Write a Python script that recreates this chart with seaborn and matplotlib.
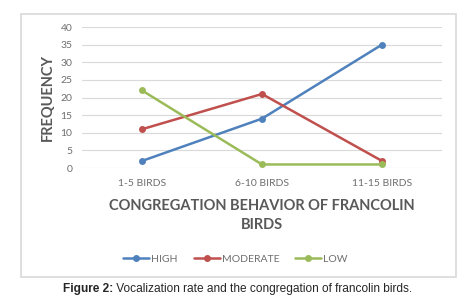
import pandas as pd
import matplotlib.pyplot as plt
import seaborn as sns
from matplotlib.patches import Rectangle

# --- Data ---
categories = ['1-5 BIRDS', '6-10 BIRDS', '11-15 BIRDS']
high = [2, 14, 35]
moderate = [11, 21, 2]
low = [22, 1, 1]
series_names = ['HIGH', 'MODERATE', 'LOW']
colors = ['#4F81BD', '#C0504D', '#9BBB59']
y_ticks = [0, 5, 10, 15, 20, 25, 30, 35, 40]

df = pd.DataFrame({
    'group': categories * 3,
    'freq': high + moderate + low,
    'level': [s for s in series_names for _ in categories],
})

sns.set_style('white')
plt.rcParams['font.family'] = ['Lato', 'DejaVu Sans']

fig = plt.figure(figsize=(4.71, 3.06), dpi=100)
fig.patches.append(Rectangle((21 / 471, 1 - 277 / 306), 435 / 471, 263 / 306,
                             transform=fig.transFigure, fill=False,
                             edgecolor='#D9D9D9', linewidth=1.2))
ax = fig.add_axes([82 / 471, 1 - 168 / 306, 360 / 471, 141 / 306])

sns.lineplot(data=df, x='group', y='freq', hue='level', palette=colors,
             marker='o', markersize=5, markeredgewidth=0, linewidth=1.8,
             sort=False, ax=ax, legend=False)

ax.set_xlim(-0.5, 2.5)
ax.set_ylim(0, 40)
ax.set_yticks(y_ticks)
ax.grid(axis='y', color='#D9D9D9', linewidth=0.8)
ax.set_axisbelow(True)
for s in ax.spines.values():
    s.set_visible(False)
ax.tick_params(axis='both', length=0, labelsize=7.5, colors='#6E6E6E')
ax.tick_params(axis='x', pad=8)
ax.tick_params(axis='y', pad=7)

ax.set_ylabel('FREQUENCY', fontsize=10.5, fontweight='bold', color='#595959', labelpad=4)
ax.set_xlabel('CONGREGATION BEHAVIOR OF FRANCOLIN\nBIRDS', fontsize=10.5,
              fontweight='bold', color='#595959', labelpad=8, linespacing=1.45)

handles = [plt.Line2D([], [], color=c, marker='o', markersize=4, linewidth=1.8)
           for c in colors]
fig.legend(handles, series_names, loc='center', bbox_to_anchor=(0.5, 1 - 259 / 306),
           ncol=3, frameon=False, fontsize=7.5, labelcolor='#6E6E6E',
           handlelength=2.5, handletextpad=0.2, columnspacing=1.5)

cap = fig.text(63 / 471, 1 - 289 / 306, 'Figure 2:', fontsize=8.6, fontweight='bold',
               family='Liberation Sans', va='center')
ax.annotate(' Vocalization rate and the congregation of francolin birds.',
            xy=(1, 0.5), xycoords=cap, va='center', fontsize=8.6,
            family='Liberation Sans', annotation_clip=False)

plt.savefig('out.png', dpi=100)
